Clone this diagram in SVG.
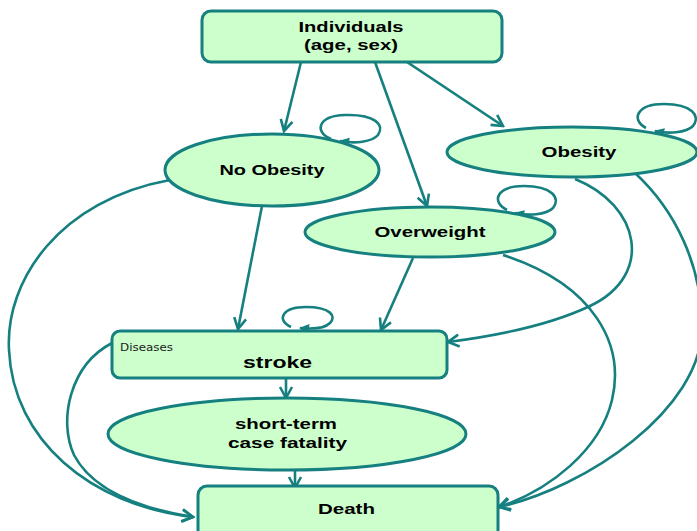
<svg xmlns="http://www.w3.org/2000/svg" width="697" height="531" viewBox="0 0 697 531">
<style>
.node{fill:#ccffcc;stroke:#15807f;stroke-width:3}
.edge{fill:none;stroke:#15807f;stroke-width:2.6}
.loop{fill:none;stroke:#15807f;stroke-width:2.6}
.lbl{font-family:"Liberation Sans",Arial,sans-serif;font-weight:bold;font-size:15px;fill:#000;text-anchor:middle}
.small{font-family:"DejaVu Sans",Verdana,sans-serif;font-size:11px;fill:#222}
</style>
<defs>
<marker id="arr" markerUnits="userSpaceOnUse" markerWidth="16" markerHeight="16" viewBox="0 0 16 16" refX="14" refY="8" orient="auto">
<path d="M3,2 L14,8 L3,14" fill="none" stroke="#15807f" stroke-width="2.6"/>
</marker>
<marker id="tri" markerUnits="userSpaceOnUse" markerWidth="12" markerHeight="12" viewBox="0 0 12 12" refX="10" refY="6" orient="auto">
<path d="M1,1 L11,6 L1,11 Z" fill="#15807f"/>
</marker>
</defs>
<rect width="697" height="531" fill="#fff"/>
<g id="connectors">
<path class="edge" marker-end="url(#arr)" d="M301,62 L284,131"/>
<path class="edge" marker-end="url(#arr)" d="M375,62 L427,206"/>
<path class="edge" marker-end="url(#arr)" d="M407,62 L503,126"/>
<path class="edge" marker-end="url(#arr)" d="M262,206 L238,329"/>
<path class="edge" marker-end="url(#arr)" d="M413,258 L381,330"/>
<path class="edge" marker-end="url(#arr)" d="M286,379 L286,398"/>
<path class="edge" marker-end="url(#arr)" d="M295,467 L295,488"/>
<path class="edge" marker-end="url(#arr)" d="M575,179 C640,205 655,275 590,306 C550,325 495,336 448,342"/>
<path class="edge" marker-end="url(#arr)" d="M635,173 C675,210 702,265 702,327 C702,410 585,488 499,507"/>
<path class="edge" marker-end="url(#arr)" d="M503,255 C595,285 625,345 612,400 C600,450 550,490 499,507"/>
<path class="edge" marker-end="url(#arr)" d="M170,180 C60,200 5,280 9,350 C13,440 90,505 193,517"/>
<path class="edge" marker-end="url(#arr)" d="M112,343 C70,365 58,420 74,455 C95,495 150,510 193,517"/>
</g>
<g id="loops">
<path class="loop" marker-end="url(#tri)" d="M331,139 C315,133 316,116 345,115 C375,114 385,125 378,135 C372,142 355,144 340,141"/>
<path class="loop" marker-end="url(#tri)" d="M646,128 C631,120 636,104 664,104 C692,104 701,116 693,126 C686,133 668,134 655,131"/>
<path class="loop" marker-end="url(#tri)" d="M507,210 C491,202 496,186 524,186 C552,186 561,198 553,208 C546,215 528,216 515,213"/>
<path class="loop" marker-end="url(#tri)" d="M291,327 C276,320 282,307 306,307 C330,307 337,316 330,323 C324,329 310,329 300,328"/>
</g>
<g id="individuals">
<rect class="node" x="202" y="11" width="300" height="51" rx="9"/>
<text class="lbl" x="351" y="32" textLength="105" lengthAdjust="spacingAndGlyphs">Individuals</text>
<text class="lbl" x="351" y="50" textLength="94" lengthAdjust="spacingAndGlyphs">(age, sex)</text>
</g>
<g id="no-obesity">
<ellipse class="node" cx="272" cy="170" rx="107" ry="36"/>
<text class="lbl" x="272" y="175" textLength="105" lengthAdjust="spacingAndGlyphs">No Obesity</text>
</g>
<g id="obesity">
<ellipse class="node" cx="572" cy="152" rx="125" ry="25"/>
<text class="lbl" x="579" y="157" textLength="75" lengthAdjust="spacingAndGlyphs">Obesity</text>
</g>
<g id="overweight">
<ellipse class="node" cx="430" cy="232" rx="125" ry="25"/>
<text class="lbl" x="430" y="237" textLength="111" lengthAdjust="spacingAndGlyphs">Overweight</text>
</g>
<g id="stroke">
<rect class="node" x="112" y="331" width="335" height="47" rx="8"/>
<text class="small" x="120" y="351" textLength="53" lengthAdjust="spacingAndGlyphs">Diseases</text>
<text class="lbl" x="277.5" y="368" style="font-size:17px" textLength="69" lengthAdjust="spacingAndGlyphs">stroke</text>
</g>
<g id="short-term-case-fatality">
<ellipse class="node" cx="287" cy="434" rx="179" ry="36"/>
<text class="lbl" x="286" y="429" textLength="102" lengthAdjust="spacingAndGlyphs">short-term</text>
<text class="lbl" x="287.5" y="448" textLength="119" lengthAdjust="spacingAndGlyphs">case fatality</text>
</g>
<g id="death">
<rect class="node" x="198" y="486" width="300" height="60" rx="9"/>
<text class="lbl" x="346.5" y="514" textLength="57" lengthAdjust="spacingAndGlyphs">Death</text>
</g>
</svg>
